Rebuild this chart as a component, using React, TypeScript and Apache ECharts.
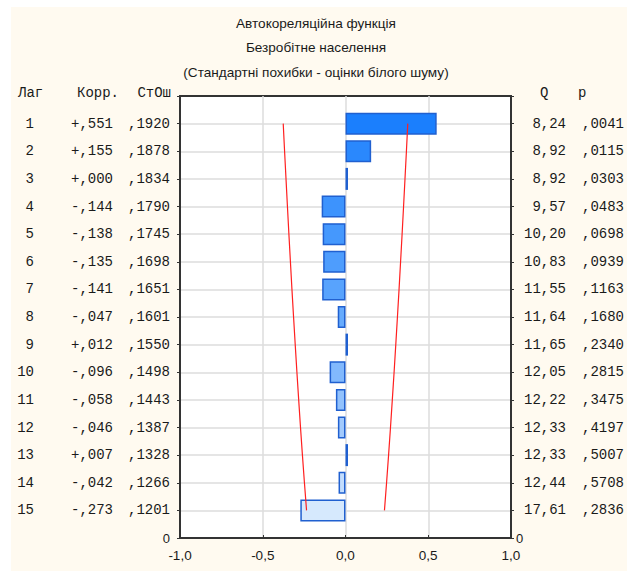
import React, { useEffect, useRef } from "react";
import * as echarts from "echarts";

const titleLines = [
  "Автокореляційна функція",
  "Безробітне населення",
  "(Стандартні похибки - оцінки білого шуму)",
];
const lags = [1, 2, 3, 4, 5, 6, 7, 8, 9, 10, 11, 12, 13, 14, 15];
const corr = [0.551, 0.155, 0.0, -0.144, -0.138, -0.135, -0.141, -0.047, 0.012, -0.096, -0.058, -0.046, 0.007, -0.042, -0.273];
const stErr = [0.192, 0.1878, 0.1834, 0.179, 0.1745, 0.1698, 0.1651, 0.1601, 0.155, 0.1498, 0.1443, 0.1387, 0.1328, 0.1266, 0.1201];
const qStat = [8.24, 8.92, 8.92, 9.57, 10.2, 10.83, 11.55, 11.64, 11.65, 12.05, 12.22, 12.33, 12.33, 12.44, 17.61];
const pVal = [0.0041, 0.0115, 0.0303, 0.0483, 0.0698, 0.0939, 0.1163, 0.168, 0.234, 0.2815, 0.3475, 0.4197, 0.5007, 0.5708, 0.2836];
const barColors = [
  "#1b7ffd", "#2a88fd", "#3590fd", "#3d93fd", "#4598fd", "#4e9dfd", "#58a3fd", "#66abfd",
  "#74b2fd", "#82b9fd", "#92c2fd", "#a2cafd", "#b3d4fd", "#c3ddfd", "#d6e9fd",
];
const xTicks = [-1, -0.5, 0, 0.5, 1];
const zCrit = 1.96;

const MONO = "'Courier New', 'Liberation Mono', monospace";
const SANS = "Arial, 'Liberation Sans', sans-serif";

const fmtCorr = (v: number) => (v >= 0 ? "+" : "-") + "," + Math.abs(v).toFixed(3).slice(2);
const fmtFrac = (v: number) => "," + v.toFixed(4).slice(2);
const fmtQ = (v: number) => v.toFixed(2).replace(".", ",");

export default function App() {
  const ref = useRef<HTMLDivElement>(null);
  useEffect(() => {
    if (!ref.current) return;
    const chart = echarts.init(ref.current, null, { renderer: "svg" });
    const n = lags.length;
    const cats = Array.from({ length: n + 2 }, (_, i) => String(i));
    const barData: any[] = cats.map(() => null);
    lags.forEach((lag, i) => {
      barData[n + 1 - lag] = { value: corr[i], itemStyle: { color: barColors[i] } };
    });
    const lower = lags.map((lag, i) => [-zCrit * stErr[i], n + 1 - lag]);
    const upper = lags.map((lag, i) => [zCrit * stErr[i], n + 1 - lag]);
    const monoStyle = { fontFamily: MONO, fontSize: 14, color: "#1a1a1a" };

    const headerText = (text: string, x: number, align: string) => ({
      type: "text",
      x,
      y: 93,
      style: { text, fill: "#1a1a1a", font: `14px ${MONO}`, align, verticalAlign: "middle" },
    });

    chart.setOption({
      animation: false,
      backgroundColor: "#ffffff",
      graphic: [
        { type: "rect", shape: { x: 11, y: 7, width: 616, height: 564 }, style: { fill: "#fffaf0" }, z: -10 },
        ...titleLines.map((t, i) => ({
          type: "text",
          x: 316,
          y: 23 + i * 24.5,
          style: { text: t, fill: "#1a1a1a", font: `13.6px ${SANS}`, align: "center", verticalAlign: "middle" },
        })),
        headerText("Лаг", 18, "left"),
        headerText("Корр.", 77, "left"),
        headerText("СтОш", 171, "right"),
        headerText("Q", 540, "left"),
        headerText("p", 578, "left"),
      ],
      grid: {
        left: 180,
        right: 114,
        top: 96,
        bottom: 33,
        show: true,
        backgroundColor: "#ffffff",
        borderColor: "#333",
        borderWidth: 2,
      },
      xAxis: {
        type: "value",
        min: xTicks[0],
        max: xTicks[xTicks.length - 1],
        interval: 0.5,
        axisLine: { show: true, onZero: false, lineStyle: { color: "#333", width: 2 } },
        axisTick: { show: true, inside: true, length: 3, lineStyle: { color: "#333" } },
        splitLine: { show: true, showMinLine: false, showMaxLine: false, lineStyle: { color: "#dcdcdc", width: 1.5 } },
        axisLabel: {
          margin: 10,
          fontFamily: SANS,
          fontSize: 13.5,
          color: "#1a1a1a",
          formatter: (v: number) => v.toFixed(1).replace(".", ","),
        },
      },
      yAxis: [
        {
          type: "category",
          data: cats,
          boundaryGap: false,
          position: "left",
          axisLine: { show: true, onZero: false, lineStyle: { color: "#333", width: 2 } },
          axisTick: { show: true, length: 3, lineStyle: { color: "#333" } },
          splitLine: { show: true, showMinLine: false, showMaxLine: false, lineStyle: { color: "#dcdcdc", width: 1.5 } },
          axisLabel: {
            interval: 0,
            margin: 10,
            formatter: (_v: string, idx: number) => {
              if (idx === 0) return "{z|0}";
              if (idx > n) return "";
              const i = n - idx;
              return `{lag|${lags[i]}}{c|${fmtCorr(corr[i])}}{s|${fmtFrac(stErr[i])}}`;
            },
            rich: {
              z: { fontFamily: SANS, fontSize: 13, color: "#1a1a1a", align: "right" },
              lag: { ...monoStyle, width: 30, align: "right" },
              c: { ...monoStyle, width: 79, align: "right" },
              s: { ...monoStyle, width: 57, align: "right" },
            },
          },
        },
        {
          type: "category",
          data: cats,
          boundaryGap: false,
          position: "right",
          axisLine: { show: true, onZero: false, lineStyle: { color: "#333", width: 2 } },
          axisTick: { show: true, length: 3, lineStyle: { color: "#333" } },
          splitLine: { show: false },
          axisLabel: {
            interval: 0,
            margin: 5,
            formatter: (_v: string, idx: number) => {
              if (idx === 0) return "{z|0}";
              if (idx > n) return "";
              const i = n - idx;
              return `{q|${fmtQ(qStat[i])}}{p|${fmtFrac(pVal[i])}}`;
            },
            rich: {
              z: { fontFamily: SANS, fontSize: 13, color: "#1a1a1a", align: "left" },
              q: { ...monoStyle, width: 50, align: "right" },
              p: { ...monoStyle, width: 58, align: "right" },
            },
          },
        },
      ],
      series: [
        {
          type: "bar",
          yAxisIndex: 0,
          data: barData,
          barWidth: 22,
          barMinHeight: 2.5,
          itemStyle: { borderColor: "#2060d0", borderWidth: 1.5 },
          z: 3,
        },
        {
          type: "line",
          yAxisIndex: 0,
          data: lower,
          symbol: "none",
          lineStyle: { color: "#ff2020", width: 1.2 },
          z: 4,
        },
        {
          type: "line",
          yAxisIndex: 0,
          data: upper,
          symbol: "none",
          lineStyle: { color: "#ff2020", width: 1.2 },
          z: 4,
        },
      ],
    });
    return () => chart.dispose();
  }, []);
  return (
    <div
      ref={ref}
      style={{ position: "fixed", left: 0, top: 0, width: 627, height: 571 }}
    />
  );
}
